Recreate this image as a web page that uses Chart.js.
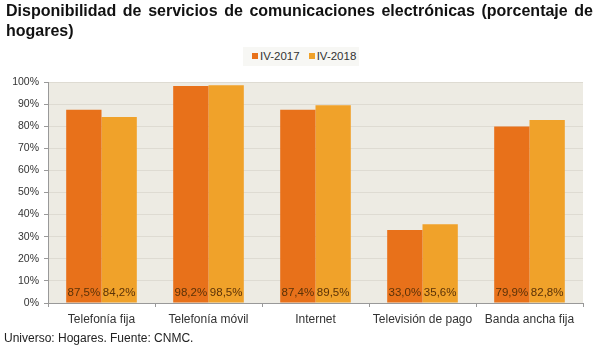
<!DOCTYPE html>
<html>
<head>
<meta charset="utf-8">
<script src="https://cdn.jsdelivr.net/npm/chart.js@4"></script>
<style>
  html, body { margin: 0; padding: 0; background: #fff; }
  #wrap { position: relative; width: 600px; height: 353px; overflow: hidden; font-family: "Liberation Sans", Arial, sans-serif; }
  #titulo { position: absolute; left: 6px; top: 1px; width: 587px; font-size: 16px; font-weight: bold; line-height: 20px; color: #111; text-align: justify; }
  #leyenda { position: absolute; left: 243px; top: 47px; width: 116px; height: 19px; background: #f7f7f4; font-size: 11.5px; color: #333; line-height: 19px; white-space: nowrap; }
  #leyenda span.m { display: inline-block; width: 6px; height: 6px; margin-right: 2px; vertical-align: 1px; }
  #fuente { position: absolute; left: 4px; top: 331px; font-size: 12px; color: #222; }
  canvas { position: absolute; left: 0; top: 0; }
</style>
</head>
<body>
<div id="wrap">
  <canvas id="grafico" width="600" height="353"></canvas>
  <div id="titulo">Disponibilidad de servicios de comunicaciones electrónicas (porcentaje de hogares)</div>
  <div id="leyenda"></div>
  <div id="fuente">Universo: Hogares. Fuente: CNMC.</div>
</div>
<script>
const categorias = ["Telefonía fija", "Telefonía móvil", "Internet", "Televisión de pago", "Banda ancha fija"];
const series = ["IV-2017", "IV-2018"];
const datos2017 = [87.5, 98.2, 87.4, 33.0, 79.9];
const datos2018 = [84.2, 98.5, 89.5, 35.6, 82.8];
const colores = ["#e8711a", "#f0a22a"];

// leyenda en html
const ley = document.getElementById("leyenda");
ley.innerHTML = series.map((s, i) =>
  '<span style="margin-left:' + (i === 0 ? 9 : 9) + 'px"><span class="m" style="background:' + colores[i] + '"></span>' + s + '</span>'
).join("");

// fondo beige del area del grafico
const fondoPlugin = {
  id: "fondo",
  beforeDraw(chart) {
    const a = chart.chartArea;
    const ctx = chart.ctx;
    ctx.save();
    ctx.fillStyle = "#edebe3";
    ctx.fillRect(a.left, a.top, a.right - a.left, a.bottom - a.top);
    ctx.restore();
  }
};

// etiquetas de valor en la base de cada barra
const etiquetasPlugin = {
  id: "etiquetas",
  afterDatasetsDraw(chart) {
    const ctx = chart.ctx;
    ctx.save();
    ctx.font = "11.5px 'Liberation Sans', Arial, sans-serif";
    ctx.fillStyle = "#5a3208";
    ctx.textAlign = "center";
    ctx.textBaseline = "middle";
    chart.data.datasets.forEach((ds, i) => {
      chart.getDatasetMeta(i).data.forEach((bar, j) => {
        const txt = ds.data[j].toFixed(1).replace(".", ",") + "%";
        ctx.fillText(txt, bar.x, chart.chartArea.bottom - 10);
      });
    });
    ctx.restore();
  }
};

new Chart(document.getElementById("grafico"), {
  type: "bar",
  data: {
    labels: categorias,
    datasets: [
      { label: series[0], data: datos2017, backgroundColor: colores[0] },
      { label: series[1], data: datos2018, backgroundColor: colores[1] }
    ]
  },
  options: {
    responsive: false,
    animation: false,
    datasets: { bar: { categoryPercentage: 0.66, barPercentage: 1.0 } },
    layout: { padding: { left: 0, right: 17, top: 82, bottom: 0 } },
    plugins: { legend: { display: false }, tooltip: { enabled: false } },
    scales: {
      x: {
        afterFit(scale) { scale.height = 50; },
        grid: { offset: true, drawOnChartArea: false, tickLength: 4, color: "#999" },
        border: { color: "#999" },
        ticks: { color: "#333", font: { family: "'Liberation Sans', Arial, sans-serif", size: 12 }, padding: 5 }
      },
      y: {
        min: 0, max: 100,
        afterFit(scale) { scale.width = 48; },
        ticks: {
          stepSize: 10,
          color: "#333",
          font: { family: "'Liberation Sans', Arial, sans-serif", size: 10.5 },
          padding: 5,
          callback: v => v + "%"
        },
        grid: { color: "#dedbd2", tickLength: 4, tickColor: "#999" },
        border: { color: "#999" }
      }
    }
  },
  plugins: [fondoPlugin, etiquetasPlugin]
});
</script>
</body>
</html>
